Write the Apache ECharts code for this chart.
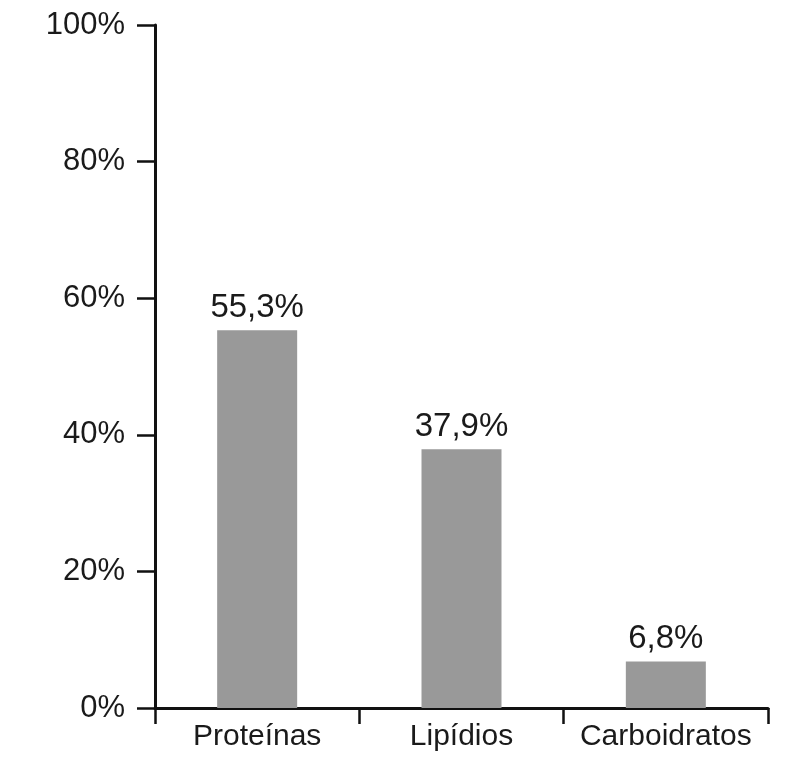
<!DOCTYPE html>
<html>
<head>
<meta charset="utf-8">
<script src="https://cdn.jsdelivr.net/npm/echarts@6/dist/echarts.min.js"></script>
<style>
  html, body { margin: 0; padding: 0; background: #fff; }
  #chart { width: 788px; height: 775px; }
</style>
</head>
<body>
<div id="chart"></div>
<script>
    // dados do gráfico
    var categorias = ['Proteínas', 'Lipídios', 'Carboidratos'];
    var valores = [55.3, 37.9, 6.8];
    var rotulos = ['55,3%', '37,9%', '6,8%'];
    var tickY = ['0%', '20%', '40%', '60%', '80%', '100%'];

    var chart = echarts.init(document.getElementById('chart'));
    var fonte = '"Liberation Sans", Arial, sans-serif';

    var option = {
        animation: false,
        grid: {
            left: 155,
            right: 20,
            top: 25,
            bottom: 67
        },
        xAxis: {
            type: 'category',
            data: categorias,
            axisLine: { lineStyle: { color: '#111', width: 3 } },
            axisTick: { show: true, interval: 0, length: 16, lineStyle: { color: '#111', width: 2.5 } },
            axisLabel: { interval: 0, hideOverlap: false, color: '#1a1a1a', fontSize: 30, fontFamily: fonte, margin: 14 }
        },
        yAxis: {
            type: 'value',
            min: 0,
            max: 100,
            interval: 20,
            splitLine: { show: false },
            axisLine: { show: true, lineStyle: { color: '#111', width: 3 } },
            axisTick: { show: true, length: 18, lineStyle: { color: '#111', width: 2.5 } },
            axisLabel: {
                color: '#1a1a1a', fontSize: 31, fontFamily: fonte, margin: 30,
                formatter: function (v) { return tickY[v / 20]; }
            }
        },
        series: [
            {
                type: 'bar',
                data: valores,
                barWidth: 80,
                itemStyle: { color: '#999999' },
                label: {
                    show: true,
                    position: 'top',
                    distance: 6,
                    color: '#1a1a1a',
                    fontSize: 33,
                    fontFamily: fonte,
                    formatter: function (p) { return rotulos[p.dataIndex]; }
                }
            }
        ]
    };
    chart.setOption(option);
</script>
</body>
</html>
